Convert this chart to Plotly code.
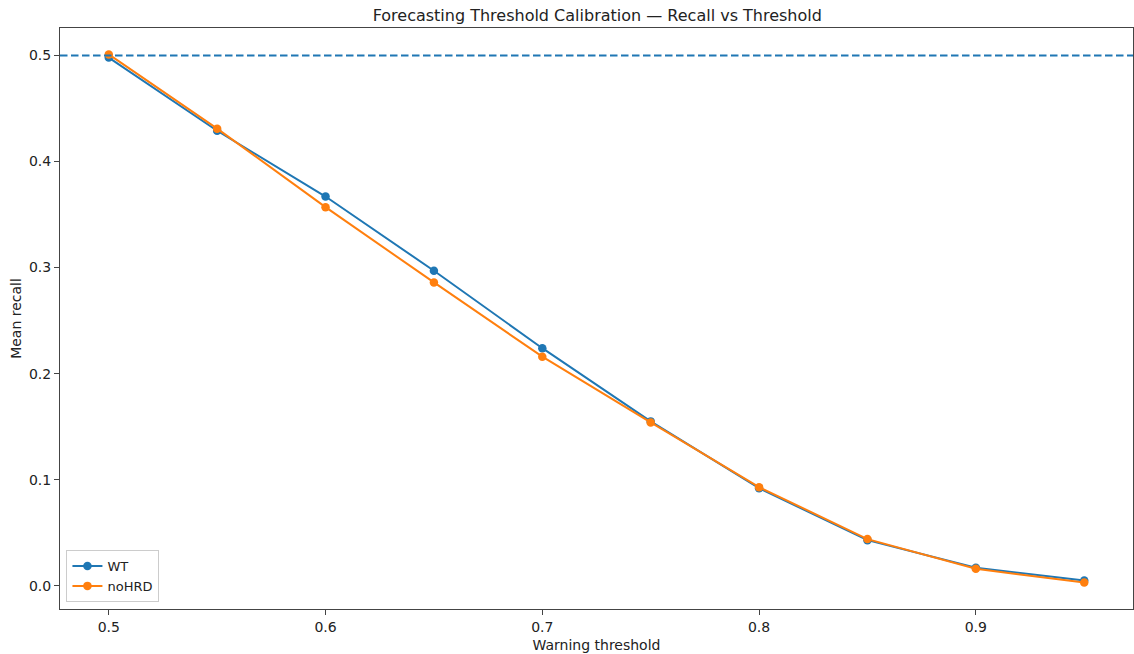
import plotly.graph_objects as go

thresholds = [0.5, 0.55, 0.6, 0.65, 0.7, 0.75, 0.8, 0.85, 0.9, 0.95]
wt_recall = [0.498, 0.429, 0.367, 0.297, 0.224, 0.155, 0.092, 0.043, 0.017, 0.005]
nohrd_recall = [0.501, 0.431, 0.357, 0.286, 0.216, 0.154, 0.093, 0.044, 0.016, 0.003]
ref_line = 0.5
x_ticks = [0.5, 0.6, 0.7, 0.8, 0.9]
y_ticks = [0.0, 0.1, 0.2, 0.3, 0.4, 0.5]

blue = "#1f77b4"
orange = "#ff7f0e"
font_family = "DejaVu Sans"
text_color = "#222222"

fig = go.Figure()
fig.add_trace(go.Scatter(x=thresholds, y=wt_recall, mode="lines+markers", name="WT",
                         line=dict(color=blue, width=2), marker=dict(color=blue, size=8.5)))
fig.add_trace(go.Scatter(x=thresholds, y=nohrd_recall, mode="lines+markers", name="noHRD",
                         line=dict(color=orange, width=2), marker=dict(color=orange, size=8.5)))
fig.add_hline(y=ref_line, line=dict(color=blue, width=2, dash="7.5px,3.5px"))

xmin, xmax = min(thresholds), max(thresholds)
xpad = (xmax - xmin) * 0.05
ymin = min(wt_recall + nohrd_recall)
ymax = max(wt_recall + nohrd_recall)
ypad = (ymax - ymin) * 0.05

axis_common = dict(showgrid=False, zeroline=False, showline=True, linecolor="#444444", linewidth=1,
                   mirror=True, ticks="outside", ticklen=5, tickcolor="#444444",
                   tickfont=dict(family=font_family, size=14, color=text_color))

fig.update_layout(
    width=1134, height=654,
    paper_bgcolor="white", plot_bgcolor="white",
    margin=dict(l=60, r=1, t=28, b=45),
    title=dict(text="Forecasting Threshold Calibration — Recall vs Threshold", x=0.5267, xanchor="center",
               y=1 - 15 / 654, yanchor="middle", font=dict(family=font_family, size=16, color=text_color)),
    xaxis=dict(range=[xmin - xpad, xmax + xpad], tickvals=x_ticks, ticktext=[f"{v:.1f}" for v in x_ticks],
               title=dict(text="Warning threshold", font=dict(family=font_family, size=14, color=text_color), standoff=6),
               **axis_common),
    yaxis=dict(range=[ymin - ypad, ymax + ypad], tickvals=y_ticks, ticktext=[f"{v:.1f}" for v in y_ticks],
               title=dict(text="Mean recall", font=dict(family=font_family, size=14, color=text_color), standoff=4),
               **axis_common),
    legend=dict(x=0.006, y=0.012, xanchor="left", yanchor="bottom", bgcolor="rgba(255,255,255,0.8)",
                bordercolor="#cccccc", borderwidth=1, tracegroupgap=0,
                font=dict(family=font_family, size=13, color=text_color)),
    showlegend=True,
)

fig.write_html("out.html", config={"displayModeBar": False},
               post_script="document.body.style.margin='0';document.body.style.overflow='hidden';")
